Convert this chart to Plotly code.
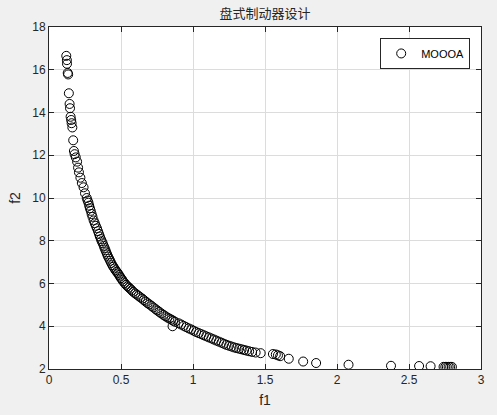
import plotly.graph_objects as go

# Pareto front points (f1, f2)
f1 = [
    0.120, 0.124, 0.125, 0.130, 0.133, 0.138, 0.143, 0.146, 0.150, 0.154,
    0.157, 0.162, 0.168, 0.173, 0.178, 0.186, 0.195, 0.202, 0.208, 0.218,
    0.228, 0.240, 0.250, 0.262, 0.268, 0.274, 0.279, 0.284, 0.290, 0.296,
    0.302, 0.310, 0.318, 0.325, 0.333, 0.340, 0.347, 0.353, 0.360, 0.366,
    0.373, 0.380, 0.386, 0.392, 0.398, 0.404, 0.410, 0.418, 0.425, 0.432,
    0.440, 0.447, 0.455, 0.462, 0.470, 0.478, 0.486, 0.493, 0.500, 0.508,
    0.515, 0.525, 0.535, 0.545, 0.555, 0.565, 0.575, 0.585, 0.598, 0.610,
    0.622, 0.635, 0.648, 0.660, 0.672, 0.685, 0.698, 0.712, 0.725, 0.740,
    0.752, 0.766, 0.780, 0.795, 0.808, 0.822, 0.836, 0.850, 0.862, 0.875,
    0.858, 0.900, 0.918, 0.935, 0.952, 0.970, 0.988, 1.005, 1.022, 1.040,
    1.058, 1.075, 1.092, 1.110, 1.128, 1.145, 1.162, 1.180, 1.198, 1.215,
    1.232, 1.250, 1.268, 1.285, 1.302, 1.320, 1.338, 1.355, 1.372, 1.390,
    1.410, 1.435, 1.470, 1.555, 1.575, 1.590, 1.605, 1.665, 1.765, 1.855,
    2.080, 2.375, 2.570, 2.650, 2.740, 2.752, 2.763, 2.775, 2.786, 2.798,
]
f2 = [
    16.65, 16.45, 16.28, 15.85, 15.78, 14.90, 14.40, 14.20, 13.80, 13.65,
    13.50, 13.30, 12.70, 12.20, 12.05, 11.90, 11.70, 11.42, 11.20, 10.95,
    10.70, 10.50, 10.22, 10.00, 9.88, 9.78, 9.64, 9.52, 9.40, 9.25,
    9.12, 8.95, 8.82, 8.70, 8.58, 8.45, 8.32, 8.20, 8.08, 7.98,
    7.88, 7.76, 7.66, 7.56, 7.46, 7.36, 7.26, 7.16, 7.06, 6.96,
    6.86, 6.78, 6.70, 6.62, 6.55, 6.48, 6.40, 6.32, 6.25, 6.18,
    6.10, 6.02, 5.94, 5.87, 5.81, 5.75, 5.68, 5.61, 5.54, 5.48,
    5.42, 5.35, 5.29, 5.22, 5.15, 5.08, 5.02, 4.95, 4.88, 4.80,
    4.74, 4.67, 4.60, 4.53, 4.47, 4.41, 4.36, 4.31, 4.26, 4.21,
    4.00, 4.14, 4.08, 4.02, 3.96, 3.90, 3.85, 3.79, 3.73, 3.68,
    3.63, 3.58, 3.53, 3.48, 3.43, 3.38, 3.33, 3.28, 3.23, 3.18,
    3.13, 3.09, 3.05, 3.01, 2.98, 2.95, 2.92, 2.89, 2.86, 2.83,
    2.80, 2.77, 2.74, 2.70, 2.68, 2.64, 2.60, 2.48, 2.35, 2.28,
    2.20, 2.15, 2.14, 2.13, 2.10, 2.10, 2.10, 2.10, 2.10, 2.10,
]

x_ticks = [0, 0.5, 1, 1.5, 2, 2.5, 3]
y_ticks = [2, 4, 6, 8, 10, 12, 14, 16, 18]

fig = go.Figure(go.Scatter(
    x=f1, y=f2, mode="markers", name="MOOOA",
    marker=dict(symbol="circle-open", size=9, color="#000000", line=dict(width=1)),
))

axis_common = dict(
    showline=True, linecolor="#262626", linewidth=1, mirror="ticks",
    ticks="inside", ticklen=5, tickcolor="#262626", automargin=False,
    showgrid=True, gridcolor="#dcdcdc", gridwidth=1, zeroline=False,
    tickfont=dict(family="Liberation Sans, Arial, sans-serif", size=12, color="#262626"),
)

fig.update_layout(
    width=497, height=415,
    paper_bgcolor="#f0f0f0", plot_bgcolor="#ffffff",
    margin=dict(l=49, r=16, t=27, b=46),
    title=dict(text="盘式制动器设计", x=0.533, xanchor="center", y=0.978, yanchor="top",
               font=dict(family="Noto Sans CJK SC", size=13, color="#262626")),
    xaxis=dict(range=[0, 3], tickvals=x_ticks, ticktext=[str(v) for v in x_ticks],
               title=dict(text="f1", standoff=8,
                          font=dict(family="Liberation Sans, Arial", size=14, color="#262626")),
               **axis_common),
    yaxis=dict(range=[2, 18], tickvals=y_ticks,
               title=dict(text="f2", standoff=8,
                          font=dict(family="Liberation Sans, Arial", size=14, color="#262626")),
               **axis_common),
    showlegend=True,
    legend=dict(x=0.975, y=0.968, xanchor="right", yanchor="top",
                bgcolor="#ffffff", bordercolor="#262626", borderwidth=1,
                font=dict(family="Liberation Sans, Arial", size=11, color="#000000"),
                itemwidth=30),
)

# page body has a default 8px margin; drop it so the figure fills the window
fig.write_html("out.html", config={"displayModeBar": False},
               post_script="document.body.style.margin='0';")
